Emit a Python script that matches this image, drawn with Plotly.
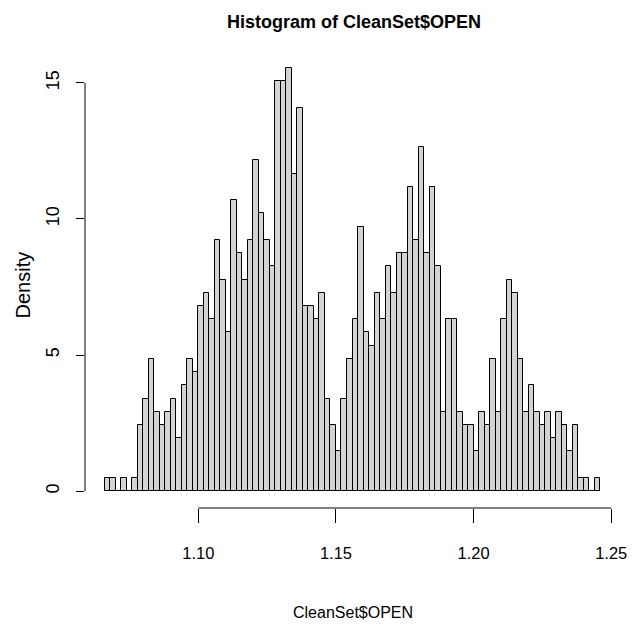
import numpy as np
import plotly.graph_objects as go

# Histogram of CleanSet$OPEN: bin edges every 0.002 from 1.066 to 1.246
bin_start = 1.066
bin_width = 0.002
counts = [
    1, 1, 0, 1, 0, 1, 5, 7, 10, 6, 5, 6, 7, 4, 8, 10, 9, 14, 15, 13, 19, 16,
    12, 22, 18, 16, 19, 25, 21, 19, 17, 31, 31, 32, 24, 29, 14, 14, 13, 15, 7, 5, 3, 7,
    10, 13, 20, 12, 11, 15, 13, 17, 15, 18, 18, 23, 19, 26, 18, 23, 17, 6, 13, 13, 6,
    5, 5, 3, 6, 5, 10, 6, 13, 16, 15, 10, 6, 8, 6, 5, 6, 4, 6, 5, 3, 5, 1, 1, 0, 1,
]
x_ticks = [1.10, 1.15, 1.20, 1.25]
x_tick_text = ["1.10", "1.15", "1.20", "1.25"]
y_ticks = [0, 5, 10, 15]

counts = np.array(counts, dtype=float)
n_obs = counts.sum()
edges = bin_start + bin_width * np.arange(len(counts) + 1)
mids = (edges[:-1] + edges[1:]) / 2
density = counts / (n_obs * bin_width)

# base-graphics style 4% padding around the data range
x_lo, x_hi = edges[0], edges[-1]
x_pad = 0.04 * (x_hi - x_lo)
y_lo, y_hi = 0.0, density.max()
y_pad = 0.04 * (y_hi - y_lo)

fig = go.Figure(
    go.Bar(
        x=mids,
        y=density,
        width=bin_width,
        marker=dict(color="#D3D3D3", line=dict(color="black", width=1)),
        hoverinfo="x+y",
    )
)

font = "Liberation Sans, Arial, sans-serif"

fig.update_layout(
    width=639,
    height=627,
    margin=dict(l=85, r=16, t=51, b=119),
    paper_bgcolor="white",
    plot_bgcolor="white",
    showlegend=False,
    bargap=0,
    title=dict(
        text="<b>Histogram of CleanSet$OPEN</b>",
        font=dict(family=font, size=18, color="black"),
        x=(85 + (639 - 16 - 85) / 2) / 639,
        xanchor="center",
        y=1 - 22 / 627,
        yanchor="middle",
    ),
    xaxis=dict(
        range=[x_lo - x_pad, x_hi + x_pad],
        tickmode="array",
        tickvals=x_ticks,
        ticktext=x_tick_text,
        ticks="outside",
        ticklen=14,
        tickwidth=1,
        tickcolor="black",
        showgrid=False,
        zeroline=False,
        showline=False,
        tickfont=dict(family=font, size=16.5, color="black"),
        ticklabelstandoff=16,
    ),
    yaxis=dict(
        range=[y_lo - y_pad, y_hi + y_pad],
        tickmode="array",
        tickvals=y_ticks,
        ticks="outside",
        ticklen=8,
        tickwidth=1,
        tickcolor="black",
        tickangle=-90,
        showgrid=False,
        zeroline=False,
        showline=False,
        tickfont=dict(family=font, size=18, color="black"),
        ticklabelstandoff=10,
    ),
    annotations=[
        dict(
            text="CleanSet$OPEN",
            xref="paper", yref="paper",
            x=0.5, y=0,
            xanchor="center", yanchor="middle",
            yshift=-104,
            showarrow=False,
            font=dict(family=font, size=16, color="black"),
        ),
        dict(
            text="Density",
            xref="paper", yref="paper",
            x=0, y=0.5,
            xanchor="center", yanchor="middle",
            xshift=-63,
            yshift=-6,
            textangle=-90,
            showarrow=False,
            font=dict(family=font, size=20, color="black"),
        ),
    ],
    shapes=[
        # axis lines spanning only the tick range
        dict(type="line", xref="x", yref="paper",
             x0=min(x_ticks), x1=max(x_ticks), y0=0, y1=0,
             line=dict(color="black", width=1)),
        dict(type="line", xref="paper", yref="y",
             x0=0, x1=0, y0=min(y_ticks), y1=max(y_ticks),
             line=dict(color="black", width=1)),
    ],
)

fig.write_html("out.html")
